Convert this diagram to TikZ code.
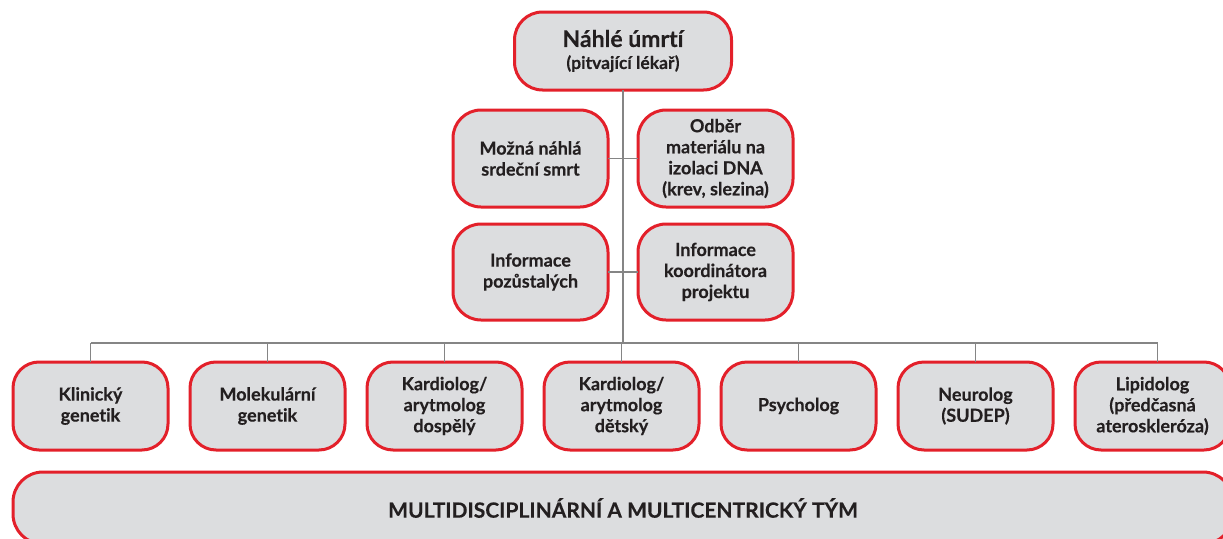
\documentclass[tikz,border=0pt]{standalone}
\usepackage{fontspec}
\setmainfont{Lato}[Ligatures=NoCommon,BoldFeatures={FakeBold=0.3}]
\usepackage{tikz}
\usetikzlibrary{positioning}
\definecolor{boxred}{HTML}{E3202A}
\definecolor{boxfill}{HTML}{DCDDDF}
\definecolor{ink}{HTML}{231F20}
\definecolor{wire}{HTML}{858585}
\tikzset{
  box/.style={draw=boxred,line width=3pt,fill=boxfill,rounded corners=26pt,align=center,
    text=ink,font=\bfseries\fontsize{18}{21}\selectfont,inner sep=1pt,outer sep=0pt},
  mid/.style={box,minimum width=155pt,minimum height=97pt,rounded corners=28pt},
  role/.style={box,minimum width=155pt,minimum height=88pt},
  link/.style={draw=wire,line width=1.6pt}
}
\begin{document}
\begin{tikzpicture}[x=1pt,y=1pt]
\useasboundingbox (0,0) rectangle (1223,-538);
\node[box,minimum width=217pt,minimum height=78pt,rounded corners=28pt] (death) at (623,-51)
  {{\fontsize{23}{26}\selectfont Náhlé úmrtí}\\[1pt]{\fontsize{17.5}{20}\selectfont (pitvající lékař)}};

\node[mid] (scd) at (530.5,-158.5) {Možná náhlá\\srdeční smrt};
\node[mid,right=30pt of scd] (dna) {Odběr\\materiálu na\\izolaci DNA\\(krev, slezina)};
\node[mid,minimum height=96pt,below=17pt of scd] (relatives) {Informace\\pozůstalých};
\node[mid,minimum height=96pt,right=30pt of relatives] (coord) {Informace\\koordinátora\\projektu};

\node[role] (clin) at (90.5,-406) {Klinický\\genetik};
\node[role,right=22pt of clin] (molec) {Molekulární\\genetik};
\node[role,right=22pt of molec] (cardad) {Kardiolog/\\arytmolog\\dospělý};
\node[role,right=22pt of cardad] (cardch) {Kardiolog/\\arytmolog\\dětský};
\node[role,right=22pt of cardch] (psych) {Psycholog};
\node[role,right=22pt of psych] (neuro) {Neurolog\\(SUDEP)};
\node[role,right=22pt of neuro] (lipid) {Lipidolog\\(předčasná\\ateroskleróza)};

\node[box,minimum width=1220pt,minimum height=72pt,rounded corners=30pt,
  font=\bfseries\fontsize{21}{24}\selectfont] (team) at (623,-508)
  {MULTIDISCIPLINÁRNÍ A MULTICENTRICKÝ TÝM};

% connectors
\coordinate (bus) at (623,-343);
\draw[link] (death.south) -- (bus);
\draw[link] (scd.east) -- (dna.west);
\draw[link] (relatives.east) -- (coord.west);
\draw[link] (clin.north |- bus) -- ([xshift=5pt]lipid.north |- bus);
\foreach \n in {clin,molec,cardad,cardch,psych,neuro}
  \draw[link] (\n.north) -- (\n.north |- bus);
\draw[link] ([xshift=5pt]lipid.north) -- ([xshift=5pt]lipid.north |- bus);
\end{tikzpicture}
\end{document}
